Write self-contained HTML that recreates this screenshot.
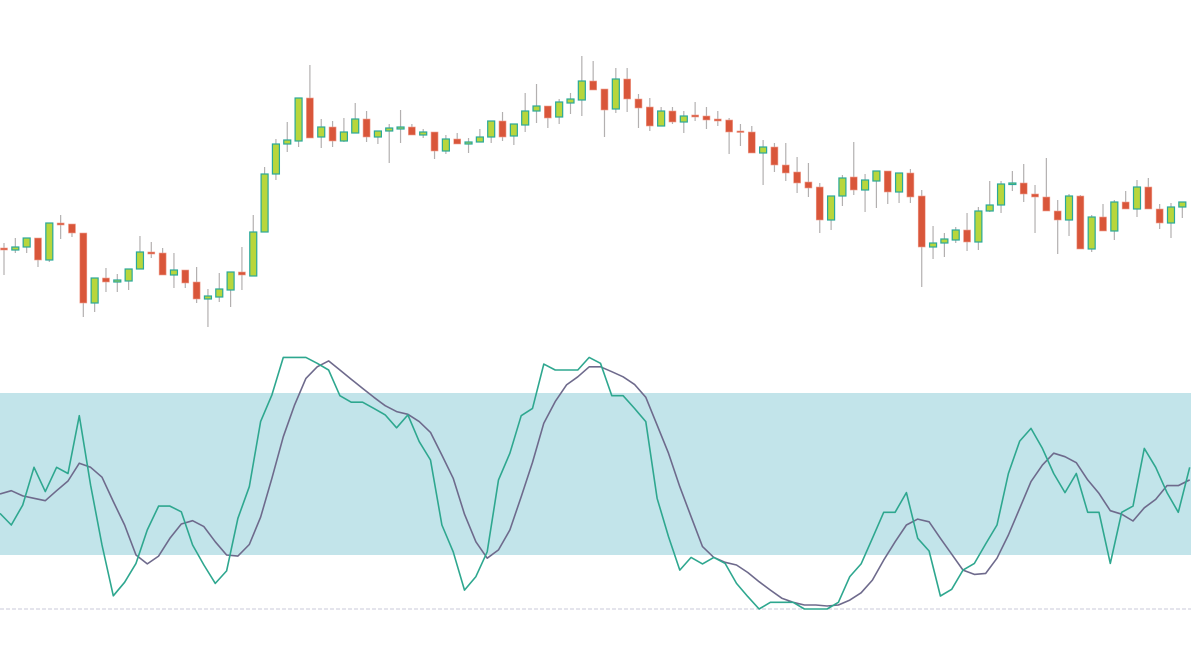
<!DOCTYPE html>
<html><head><meta charset="utf-8"><style>
html,body{margin:0;padding:0;background:#fff;}
svg{display:block;}
</style></head><body>
<svg id="chart" width="1191" height="648" viewBox="0 0 1191 648" xmlns="http://www.w3.org/2000/svg">
<g id="price-pane"></g>
<g id="osc-pane"></g>
</svg>
<script>
const opens  = [102,100,103,112,90,127,126,117,47,72,68,69,81,98,97,75,80,68,51,53,60,78,74,118,176,206,209,252,213,223,209,217,231,213,219,221,223,215,218,199,211,206,208,213,229,214,225,239,244,233,247,250,269,261,241,271,251,243,224,239,228,235,234,231,230,219,218,197,203,185,178,168,163,130,154,173,160,169,179,158,177,154,103,107,110,120,108,139,145,166,167,156,153,139,130,154,101,133,119,148,141,163,141,127,143];
const highs  = [107,112,112,112,127,135,126,117,72,82,76,81,114,108,102,97,80,83,61,77,78,103,135,183,211,228,252,285,231,229,232,247,239,219,226,240,226,221,218,215,217,212,221,229,238,226,257,266,244,251,257,294,289,261,282,282,256,252,243,243,239,248,243,239,232,226,224,210,207,207,193,187,167,154,175,208,176,179,179,177,181,160,124,117,123,137,143,169,169,179,186,165,192,150,156,155,135,146,150,159,170,172,146,147,148];
const lows   = [75,97,97,83,88,111,113,33,38,58,58,60,81,92,75,62,62,47,23,48,43,60,74,118,170,198,203,212,202,203,208,217,208,206,187,207,215,212,191,196,206,197,208,207,209,205,218,227,222,226,236,234,260,213,237,238,222,219,224,226,217,229,221,224,196,204,197,165,178,169,157,153,117,120,144,155,138,142,146,147,147,63,91,93,107,99,100,138,137,159,148,117,139,96,114,101,98,119,110,141,133,141,121,112,132];
const closes = [100,103,112,90,127,125,117,47,72,68,70,81,98,96,75,80,67,51,54,61,78,75,118,176,206,210,252,212,223,209,218,231,213,219,222,223,215,218,199,211,206,208,213,229,213,226,239,244,232,248,251,269,260,240,271,251,242,224,239,228,234,233,230,229,218,218,197,203,185,177,167,162,130,154,172,160,170,179,158,177,153,103,107,111,120,108,139,145,166,167,156,153,139,130,154,101,133,119,148,141,163,141,127,143,148];
const kValues = [35.4,31.1,38.5,52.5,43.5,52.5,50.2,71.6,45.9,23.7,4.9,9.9,16.9,29.3,38.1,38.1,36,23.7,16.3,9.5,14.1,33.6,45.3,69.4,79.3,93.2,93.2,93.2,91,88.5,79,76.6,76.6,74.3,71.9,67.1,71.9,62,55.2,31.1,21.2,7,12,21.2,47.8,57.7,71.6,74.3,90.7,88.5,88.5,88.5,93.2,91,79,79,74.3,69.4,41,26.8,14.4,19.1,16.7,19.1,16.9,9.5,4.6,0,2.5,2.5,2.5,0,0,0,2.5,12,16.7,26.2,35.8,35.8,43.1,26.2,21.5,4.8,7.3,14.4,16.9,24.1,31.1,50.2,62.2,66.9,59.5,50.2,43.1,50.2,35.8,35.8,16.9,35.8,38.1,59.5,52.5,43.1,35.8,52.5];
const dValues = [42.6,43.8,41.9,41,40.1,43.8,47.4,54,52.5,48.8,39.8,31.1,20,16.7,19.6,26.2,31.5,32.7,30.5,24.9,20,19.6,23.9,34,48.4,63.8,75.6,85.4,89.7,91.9,88.5,85.1,81.7,78.4,75.3,73.1,72.1,69.4,65.4,57,48.4,35.1,24.9,18.8,21.9,29.3,41.6,54.3,68.8,76.8,83,86,89.7,89.7,87.9,86,83.2,78.4,68.1,57.7,45.3,34.2,23.1,19.1,17.3,16.3,13.5,10.1,7,4,2.5,1.5,1.5,1.1,1.5,3.3,6,10.7,18.1,24.9,31.1,33.3,32.3,26.2,20.3,14.4,12.8,13.2,18.8,27.4,37.3,47.2,53.3,57.7,56.4,54.2,47.8,42.8,36.4,35.1,32.6,37.5,40.6,45.7,45.7,47.8];
const bandLevels = [80,20];

const NS='http://www.w3.org/2000/svg';
function mk(tag, attrs){const e=document.createElementNS(NS,tag);for(const k in attrs)e.setAttribute(k,attrs[k]);return e;}
const xCandle = i => 4 + i*11.33;
const yPrice = p => 350 - p;
const xOsc = i => i*11.33;
const yOsc = v => 609 - v*2.7;

const osc = document.getElementById('osc-pane');
const band = mk('rect',{x:0,y:yOsc(bandLevels[0]),width:1191,height:yOsc(bandLevels[1])-yOsc(bandLevels[0]),fill:'#c2e4ea'});


osc.appendChild(band);
const zero = mk('line',{x1:0,x2:1191,y1:yOsc(0),y2:yOsc(0),stroke:'#c9c9d9','stroke-width':1,'stroke-dasharray':'4,2'});


osc.appendChild(zero);
function line(vals,color,name){
  const pts = vals.map((v,i)=>xOsc(i).toFixed(1)+','+yOsc(v).toFixed(1)).join(' ');
  const pl = mk('polyline',{points:pts,fill:'none',stroke:color,'stroke-width':1.6,'stroke-linejoin':'round'});
  
  
  osc.appendChild(pl);
}
line(dValues,'#6e6a8c','d-line');
line(kValues,'#2ea78f','k-line');

const pp = document.getElementById('price-pane');
opens.forEach((o,i)=>{
  const c = closes[i], up = c >= o, x = xCandle(i);
  const g = mk('g',{});
  
  
  const w = mk('line',{x1:x,x2:x,y1:yPrice(highs[i]),y2:yPrice(lows[i]),stroke:'#b3b0b0','stroke-width':1.2});
  
  
  g.appendChild(w);
  const top = yPrice(Math.max(o,c)), h = Math.max(1.5, Math.abs(yPrice(o)-yPrice(c)));
  const b = mk('rect',{x:x-3.5,y:top,width:7,height:h,
    fill: up ? '#b8d63c' : '#d9563a', stroke: up ? '#2aa89a' : '#f0a090','stroke-width': up?1.2:0.6});
  
  
  g.appendChild(b);
  pp.appendChild(g);
});
</script>
</body></html>
